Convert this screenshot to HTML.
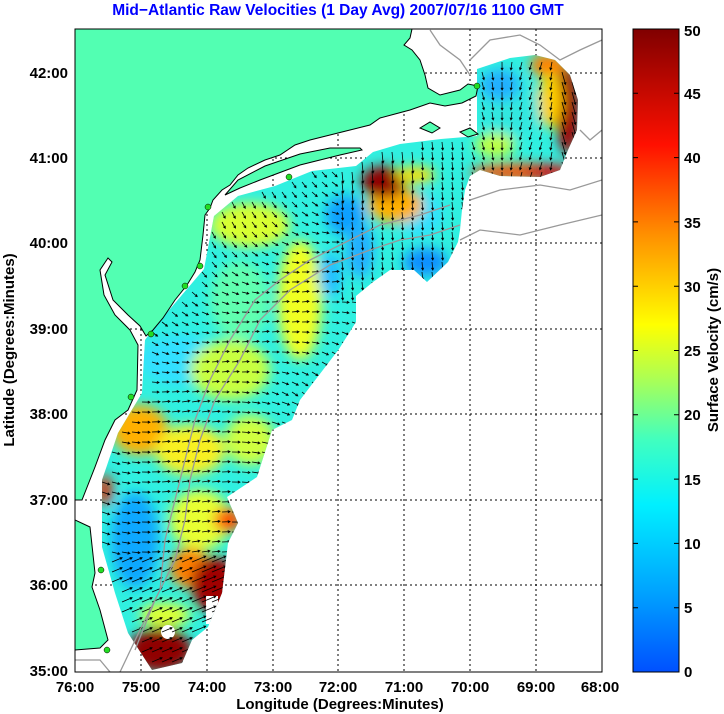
<!DOCTYPE html>
<html><head><meta charset="utf-8"><style>
body{margin:0;background:#fff;}
svg{display:block;font-family:"Liberation Sans",sans-serif;font-weight:bold;}
</style></head><body>
<svg id="s" width="724" height="714" viewBox="0 0 724 714" xmlns="http://www.w3.org/2000/svg">
<defs>
<linearGradient id="cb" x1="0" y1="1" x2="0" y2="0">
<stop offset="0" stop-color="#0050ff"/>
<stop offset="0.12" stop-color="#00a0ff"/>
<stop offset="0.26" stop-color="#00f0ff"/>
<stop offset="0.36" stop-color="#40ffc0"/>
<stop offset="0.46" stop-color="#b0ff50"/>
<stop offset="0.54" stop-color="#ffff00"/>
<stop offset="0.68" stop-color="#ff9000"/>
<stop offset="0.82" stop-color="#ff1000"/>
<stop offset="1" stop-color="#800000"/>
</linearGradient>
<clipPath id="dc"><polygon id="dp" points="480,68 510,58 535,55 555,60 570,75 578,100 577,130 568,150 560,170 540,177 500,176 480,170 470,176 465,190 462,210 460,230 458,242 448,262 427,282 414,270 390,270 373,282 356,296 356,322 339,349 300,400 292,420 272,430 257,477 227,497 238,523 228,543 222,593 208,627 192,640 182,663 152,670 128,633 115,593 102,547 102,480 118,433 142,393 145,340 153,329 204,269 214,216 238,196 275,186 312,171 356,166 373,152 400,144 441,139 477,136 477,69"/></clipPath>
<filter id="bl" x="-50%" y="-50%" width="200%" height="200%"><feGaussianBlur stdDeviation="6"/></filter>
<clipPath id="pc"><rect x="75" y="29" width="527" height="643"/></clipPath>
</defs>
<rect width="724" height="714" fill="#fff"/>
<g stroke="#000" stroke-width="1" stroke-dasharray="2,3">
<line x1="141" y1="29" x2="141" y2="672"/><line x1="207" y1="29" x2="207" y2="672"/><line x1="273" y1="29" x2="273" y2="672"/><line x1="338" y1="29" x2="338" y2="672"/><line x1="404" y1="29" x2="404" y2="672"/><line x1="470" y1="29" x2="470" y2="672"/><line x1="536" y1="29" x2="536" y2="672"/>
<line x1="75" y1="73" x2="602" y2="73"/><line x1="75" y1="158" x2="602" y2="158"/><line x1="75" y1="243" x2="602" y2="243"/><line x1="75" y1="329" x2="602" y2="329"/><line x1="75" y1="414" x2="602" y2="414"/><line x1="75" y1="500" x2="602" y2="500"/><line x1="75" y1="585" x2="602" y2="585"/>
</g>
<g clip-path="url(#dc)">
<rect x="75" y="29" width="527" height="643" fill="#30f0e0"/>
<g filter="url(#bl)">
<ellipse cx="300" cy="300" rx="22" ry="60" fill="#f0ff20"/>
<ellipse cx="250" cy="225" rx="40" ry="22" fill="#d8ff30"/>
<ellipse cx="240" cy="300" rx="30" ry="40" fill="#60ffb0"/>
<ellipse cx="345" cy="215" rx="20" ry="20" fill="#10a0ff"/>
<ellipse cx="360" cy="250" rx="14" ry="28" fill="#20b0ff"/>
<ellipse cx="425" cy="262" rx="22" ry="14" fill="#1090ff"/>
<ellipse cx="330" cy="275" rx="12" ry="22" fill="#20c0ff"/>
<ellipse cx="420" cy="215" rx="22" ry="22" fill="#30e0ff"/>
<ellipse cx="395" cy="205" rx="28" ry="18" fill="#ffb000"/>
<ellipse cx="383" cy="182" rx="22" ry="16" fill="#900000"/>
<ellipse cx="415" cy="175" rx="20" ry="8" fill="#ffe000"/>
<ellipse cx="520" cy="172" rx="50" ry="8" fill="#ff5000"/>
<ellipse cx="548" cy="172" rx="25" ry="7" fill="#e00000"/>
<ellipse cx="568" cy="110" rx="12" ry="45" fill="#a00000"/>
<ellipse cx="548" cy="65" rx="18" ry="12" fill="#ff8000"/>
<ellipse cx="550" cy="100" rx="12" ry="28" fill="#ffd000"/>
<ellipse cx="510" cy="110" rx="30" ry="30" fill="#30e8e0"/>
<ellipse cx="500" cy="85" rx="20" ry="16" fill="#20b0ff"/>
<ellipse cx="495" cy="145" rx="20" ry="12" fill="#c0ff40"/>
<ellipse cx="180" cy="360" rx="40" ry="25" fill="#30e0ff"/>
<ellipse cx="230" cy="370" rx="40" ry="30" fill="#c8ff40"/>
<ellipse cx="140" cy="430" rx="28" ry="25" fill="#ffb000"/>
<ellipse cx="190" cy="450" rx="35" ry="25" fill="#f8f020"/>
<ellipse cx="250" cy="440" rx="25" ry="25" fill="#d0ff40"/>
<ellipse cx="135" cy="540" rx="24" ry="48" fill="#10a8ff"/>
<ellipse cx="200" cy="520" rx="30" ry="30" fill="#e8ff30"/>
<ellipse cx="228" cy="520" rx="14" ry="12" fill="#ff5000"/>
<ellipse cx="190" cy="568" rx="20" ry="20" fill="#ff8000"/>
<ellipse cx="215" cy="585" rx="24" ry="28" fill="#a00000"/>
<ellipse cx="165" cy="615" rx="25" ry="12" fill="#e0ff30"/>
<ellipse cx="160" cy="650" rx="32" ry="22" fill="#900000"/>
<ellipse cx="105" cy="490" rx="7" ry="16" fill="#e02000"/>
</g>
<circle cx="168" cy="632" r="7" fill="#fff"/>
<rect x="206" y="596" width="12" height="28" fill="#fff"/>
<g id="arr" stroke="#000" stroke-width="1" fill="none"></g>
</g>
<g fill="none" stroke="#999" stroke-width="1.3" clip-path="url(#pc)">
<polyline points="135,650 155,600 175,560 185,520 190,480 200,440 215,400 240,360 260,320 290,290 330,265 370,250 400,240 430,235 460,225"/>
<polyline points="120,672 140,630 160,590 165,540 175,500 185,460 195,420 210,380 230,340 255,300 280,280 310,260 350,240 380,225 420,215 450,205"/>
<polyline points="470,200 500,190 540,185 570,190 602,180"/>
<polyline points="460,240 480,230 520,235 560,225 602,215"/>
<polyline points="470,60 490,40 520,35 540,45 560,60 580,50 602,40"/>
<polyline points="430,30 440,45 460,60 470,75"/>
<polyline points="580,130 590,140 602,130"/>
<polyline points="75,660 100,660 110,672"/>
</g>
<g clip-path="url(#pc)">
<polygon fill="#52ffb2" stroke="#000" stroke-width="1" points="60,20 414,20 410,38 404,45 412,50 420,60 425,75 428,88 440,95 460,90 468,84 478,86 476,96 462,103 445,106 430,103 410,110 395,114 380,118 370,125 350,130 330,135 310,140 295,145 280,155 265,160 248,168 238,175 230,185 222,190 213,200 210,208 205,215 203,235 200,260 195,272 187,285 175,300 163,318 153,330 146,336 140,326 128,315 113,300 105,275 112,262 108,258 100,270 104,295 115,315 130,330 138,345 137,390 128,410 115,420 105,440 95,467 82,500 75,500 75,520 90,527 95,573 92,587 100,610 108,640 100,648 75,650 60,650"/>
<polygon fill="#52ffb2" stroke="#000" stroke-width="1" points="225,195 240,188 260,180 300,165 340,155 362,150 360,148 330,148 300,154 265,166 238,180"/>
<polygon fill="#52ffb2" stroke="#000" stroke-width="1" points="420,128 430,122 440,128 432,133"/>
<polygon fill="#52ffb2" stroke="#000" stroke-width="1" points="460,132 470,128 478,134 468,137"/>
</g>
<g fill="#22dd22" stroke="#000" stroke-width="0.5">
<circle cx="477" cy="86" r="3"/><circle cx="289" cy="177" r="3"/><circle cx="208" cy="207" r="3"/><circle cx="200" cy="266" r="3"/><circle cx="185" cy="286" r="3"/><circle cx="151" cy="334" r="3"/><circle cx="131" cy="397" r="3"/><circle cx="101" cy="570" r="3"/><circle cx="107" cy="650" r="3"/>
</g>
<rect x="75" y="29" width="527" height="643" fill="none" stroke="#000" stroke-width="1"/>
<text x="338" y="15" fill="#0000ff" font-size="15.5" text-anchor="middle">Mid−Atlantic Raw Velocities (1 Day Avg) 2007/07/16 1100 GMT</text>
<g font-size="15" text-anchor="end">
<text x="68" y="78">42:00</text><text x="68" y="163">41:00</text><text x="68" y="248">40:00</text><text x="68" y="334">39:00</text><text x="68" y="419">38:00</text><text x="68" y="505">37:00</text><text x="68" y="590">36:00</text><text x="68" y="676">35:00</text>
</g>
<g font-size="15" text-anchor="middle">
<text x="75" y="692">76:00</text><text x="141" y="692">75:00</text><text x="207" y="692">74:00</text><text x="273" y="692">73:00</text><text x="338" y="692">72:00</text><text x="404" y="692">71:00</text><text x="470" y="692">70:00</text><text x="536" y="692">69:00</text><text x="600" y="692">68:00</text>
</g>
<text x="340" y="709" font-size="15" text-anchor="middle">Longitude (Degrees:Minutes)</text>
<text transform="translate(14,350) rotate(-90)" font-size="15" text-anchor="middle">Latitude (Degrees:Minutes)</text>
<rect x="633" y="29" width="46" height="643" fill="url(#cb)" stroke="#000" stroke-width="1"/>
<g id="cbt" stroke="#000"></g>
<g font-size="15">
<text x="684" y="677">0</text><text x="684" y="613">5</text><text x="684" y="549">10</text><text x="684" y="485">15</text><text x="684" y="420">20</text><text x="684" y="356">25</text><text x="684" y="292">30</text><text x="684" y="228">35</text><text x="684" y="163">40</text><text x="684" y="99">45</text><text x="684" y="36">50</text>
</g>
<text transform="translate(718,350) rotate(-90)" font-size="15" text-anchor="middle">Surface Velocity (cm/s)</text>
</svg>
<script>
var ns="http://www.w3.org/2000/svg";
var g=document.getElementById("arr");
function inPoly(x,y,pts){var c=false;for(var i=0,j=pts.length-1;i<pts.length;j=i++){var xi=pts[i][0],yi=pts[i][1],xj=pts[j][0],yj=pts[j][1];if(((yi>y)!=(yj>y))&&(x<(xj-xi)*(y-yi)/(yj-yi)+xi))c=!c;}return c;}
var pts=document.getElementById("dp").getAttribute("points").trim().split(/\s+/).map(function(p){return p.split(",").map(Number);});
var d="";
for(var y=42;y<672;y+=10){for(var x=82;x<600;x+=10){if(!inPoly(x,y,pts))continue;
var a,L;
if(y<180&&x>470){a=Math.PI/2+0.3*Math.sin(x/20);L=8;if(x>555){a=1.3;L=13;}}
else if(x>340&&y<300){a=Math.PI/2-0.1;L=8;if(y<200&&x<420)L=11;}
else if(y<400){a=0.5+0.6*Math.sin(y/50+x/60);L=7;}
else if(y<560){a=0.15+0.3*Math.sin(x/40);L=8;}
else{a=-0.4;L=11;if(x>190)L=15;}
var dx=Math.cos(a)*L,dy=Math.sin(a)*L;
var x2=x+dx,y2=y+dy;
var ha=Math.atan2(dy,dx);
d+="M"+x.toFixed(1)+" "+y.toFixed(1)+"L"+x2.toFixed(1)+" "+y2.toFixed(1);
d+="M"+(x2-2.5*Math.cos(ha-0.5)).toFixed(1)+" "+(y2-2.5*Math.sin(ha-0.5)).toFixed(1)+"L"+x2.toFixed(1)+" "+y2.toFixed(1)+"L"+(x2-2.5*Math.cos(ha+0.5)).toFixed(1)+" "+(y2-2.5*Math.sin(ha+0.5)).toFixed(1);
}}
var p=document.createElementNS(ns,"path");p.setAttribute("d",d);p.setAttribute("stroke-width","0.8");g.appendChild(p);
var t=document.getElementById("cbt");
for(var i=1;i<10;i++){var yy=672-i*64.3;var l=document.createElementNS(ns,"path");l.setAttribute("d","M633 "+yy+"h5M679 "+yy+"h-5");t.appendChild(l);}
</script>
</body></html>
